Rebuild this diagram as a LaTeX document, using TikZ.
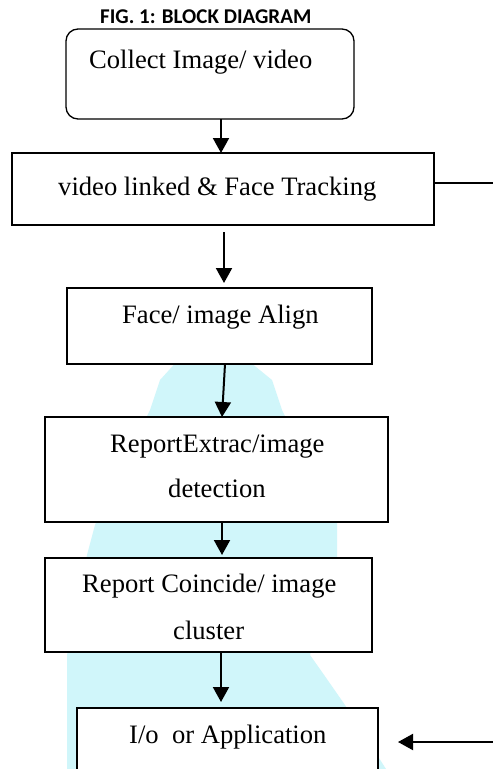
\documentclass[tikz,border=0pt]{standalone}
\usepackage{fontspec}
\setmainfont{Liberation Serif}
\newfontfamily\titlefont{Carlito}
\usetikzlibrary{arrows.meta}
\definecolor{wmark}{RGB}{208,246,250}
\tikzset{
  boxstyle/.style={draw=black, fill=white, line width=1.3pt, inner sep=0pt, outer sep=0pt},
  lbl/.style={anchor=base west, inner sep=0pt, font=\fontsize{26.6pt}{32pt}\selectfont},
  arr/.style={line width=2pt, -{Triangle[length=15pt,width=16pt]}},
  plainline/.style={line width=1.5pt}
}
\begin{document}
\begin{tikzpicture}[x=1pt,y=-1pt]
\clip (0,0) rectangle (493,769);
\fill[white] (0,0) rectangle (493,769);
% faint watermark
\fill[wmark] (180,358) -- (245,358) -- (272,380) -- (282,410) -- (337,520) -- (337,558)
  -- (310,655) -- (322,672) -- (345,705) -- (386,769) -- (67,769) -- (67,655)
  -- (87,555) -- (95,525) -- (150,410) -- (160,380) -- cycle;
% title
\node[anchor=base west, inner sep=0pt, font=\titlefont\bfseries\fontsize{21pt}{24pt}\selectfont] (title) at (100,23) {FIG. 1: BLOCK DIAGRAM};
% boxes
\node[boxstyle, rounded corners=12pt, minimum width=288pt, minimum height=90pt] (b1) at (210,74) {};
\node[boxstyle, minimum width=422pt, minimum height=72pt] (b2) at (223,189) {};
\node[boxstyle, minimum width=305pt, minimum height=76pt] (b3) at (219.5,326) {};
\node[boxstyle, minimum width=343pt, minimum height=105pt] (b4) at (216.5,469.5) {};
\node[boxstyle, minimum width=327pt, minimum height=94pt] (b5) at (208.5,605) {};
\node[boxstyle, minimum width=301pt, minimum height=92pt] (b6) at (227.5,754) {};
% labels
\node[lbl] (t1) at (89,68) {Collect Image/ video};
\node[lbl] (t2) at (58,195) {video linked \& Face Tracking};
\node[lbl] (t3) at (122,323) {Face/ image Align};
\node[lbl] (t4a) at (110,452) {ReportExtrac/image};
\node[lbl] (t4b) at (168,497) {detection};
\node[lbl] (t5a) at (82,592) {Report Coincide/ image};
\node[lbl] (t5b) at (173,639) {cluster};
\node[lbl] (t6) at (129,743) {I/o\ \ or Application};
% side coordinates
\coordinate (rtop) at (493,183);
\coordinate (rbotstart) at (493,742);
\coordinate (rbotend) at (398,742);
% connectors
\draw[arr] ([xshift=11pt]b1.south) -- ([xshift=-2pt]b2.north);
\draw[arr] ([xshift=1pt,yshift=-7pt]b2.south) -- ([xshift=4.5pt,yshift=5pt]b3.north);
\draw[arr] ([xshift=5.5pt]b3.south) -- ([xshift=5.5pt]b4.north);
\draw[arr] ([xshift=5.5pt]b4.south) -- ([xshift=13.5pt,yshift=3pt]b5.north);
\draw[arr] ([xshift=12.5pt]b5.south) -- ([xshift=-6.5pt,yshift=6pt]b6.north);
\draw[plainline] ([yshift=6pt]b2.east) -- (rtop);
\draw[arr] (rbotstart) -- (rbotend);
\end{tikzpicture}
\end{document}
